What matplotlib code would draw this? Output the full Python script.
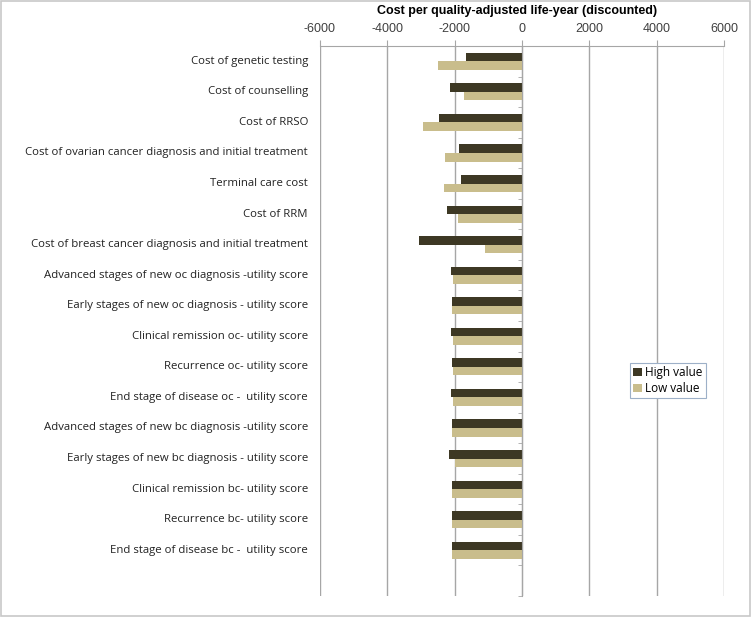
import numpy as np
import matplotlib.pyplot as plt
from matplotlib.patches import Rectangle

# categories from top to bottom
labels = [
    "Cost of genetic testing",
    "Cost of counselling",
    "Cost of RRSO",
    "Cost of ovarian cancer diagnosis and initial treatment",
    "Terminal care cost",
    "Cost of RRM",
    "Cost of breast cancer diagnosis and initial treatment",
    "Advanced stages of new oc diagnosis -utility score",
    "Early stages of new oc diagnosis - utility score",
    "Clinical remission oc- utility score",
    "Recurrence oc- utility score",
    "End stage of disease oc -  utility score",
    "Advanced stages of new bc diagnosis -utility score",
    "Early stages of new bc diagnosis - utility score",
    "Clinical remission bc- utility score",
    "Recurrence bc- utility score",
    "End stage of disease bc -  utility score",
]
high_value = [-1660, -2140, -2460, -1860, -1810, -2240, -3060,
              -2110, -2080, -2110, -2080, -2110, -2080, -2160, -2080, -2080, -2080]
low_value = [-2500, -1720, -2930, -2290, -2330, -1900, -1110,
             -2060, -2080, -2040, -2060, -2060, -2080, -2000, -2080, -2080, -2080]
xticks = [-6000, -4000, -2000, 0, 2000, 4000, 6000]

dark = "#3d3824"
tan = "#c9bd8c"
grid_col = "#a6a6a6"

fig = plt.figure(figsize=(7.52, 6.17), dpi=100)
ax = fig.add_axes([320/752, 1 - 596/617, 404/752, 550/617])

y = np.arange(len(labels))
h = 0.28
ax.barh(y - h/2, high_value, height=h, color=dark, label="High value", zorder=3)
ax.barh(y + h/2, low_value, height=h, color=tan, label="Low value", zorder=3)

ax.set_xlim(-6000, 6000)
ax.set_ylim(17.5, -0.5)  # one empty slot at the bottom

# x axis on top
ax.xaxis.tick_top()
ax.set_xticks(xticks)
ax.set_xticklabels([str(t) for t in xticks], fontsize=9, color="#404040",
                   family="Liberation Sans")
ax.tick_params(axis="x", direction="out", length=4, color=grid_col, pad=4)
ax.xaxis.grid(True, color=grid_col, linewidth=1, zorder=0)
ax.set_axisbelow(True)

for s in ["bottom", "right"]:
    ax.spines[s].set_visible(False)
ax.spines["top"].set_color(grid_col)
ax.spines["left"].set_position(("data", 0))
ax.spines["left"].set_color(grid_col)
ax.spines["left"].set_zorder(4)

# small ticks on the zero axis between categories
ax.set_yticks([])
ax.set_yticks(np.arange(-0.5, 18, 1), minor=True)
ax.tick_params(axis="y", which="minor", direction="out", length=3, color=grid_col)

for i, lab in enumerate(labels):
    ax.text(-0.03, i, lab, transform=ax.get_yaxis_transform(), ha="right",
            va="center", fontsize=8.2, family="Open Sans", color="#222222")

fig.text(517/752, 1 - 11/617, "Cost per quality-adjusted life-year (discounted)",
         ha="center", va="center", fontsize=9, fontweight="bold",
         family="Liberation Sans")

leg = ax.legend(loc="upper left", bbox_to_anchor=((624-320)/404, (596-357)/550),
                prop={"family": "Open Sans", "size": 8.5},
                handlelength=0.7, handleheight=0.7, handletextpad=0.3,
                borderpad=0.3, labelspacing=0.2, fancybox=False, framealpha=1)
leg.get_frame().set_edgecolor("#9db0c8")
leg.get_frame().set_linewidth(0.8)

fig.patches.append(Rectangle((0.001, 0.002), 0.997, 0.996, transform=fig.transFigure,
                             fill=False, edgecolor="#c8c8c8", linewidth=1.2))

fig.savefig("out.png", dpi=100)
